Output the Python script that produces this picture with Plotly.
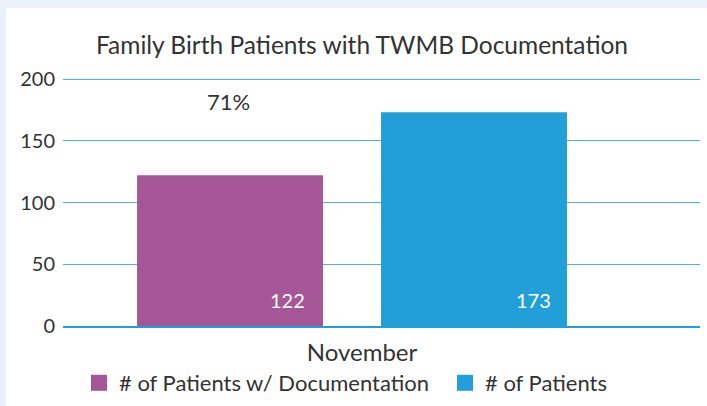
import plotly.graph_objects as go

categories = ["November"]
series_names = ["# of Patients w/ Documentation", "# of Patients"]
documented = [122]
total = [173]
y_ticks = [0, 50, 100, 150, 200]

PURPLE = "#A55697"
BLUE = "#229ED9"
FONT = "Lato"
TXT = "#333333"

fig = go.Figure()
for name, vals, col, lg in ((series_names[0], documented, PURPLE, "legend"),
                            (series_names[1], total, BLUE, "legend2")):
    fig.add_trace(go.Bar(name=name, x=categories, y=vals, marker_color=col,
                         marker_line_width=0, showlegend=False))
    # legend entry with a larger square swatch
    fig.add_trace(go.Scatter(name=name, x=[None], y=[None], mode="markers",
                             marker=dict(symbol="square", size=20, color=col),
                             showlegend=True, hoverinfo="skip", legend=lg))

# value labels, bottom-right inside bars
for vals, xs in ((documented, -65), (total, 181)):
    fig.add_annotation(x=categories[0], y=0, xref="x", yref="y", text=str(vals[0]),
                       showarrow=False, yanchor="bottom", yshift=12, xshift=xs,
                       font=dict(family=FONT, size=20, color="white"))

pct = round(documented[0] / total[0] * 100)
fig.add_annotation(x=categories[0], y=180, xref="x", yref="y", text=f"{pct}%",
                   showarrow=False, xshift=-124, yshift=2,
                   font=dict(family=FONT, size=22, color=TXT))

# white panel over light-blue frame
ml, mr, mt, mb, W, H = 63, 7, 77, 80, 707, 406
pw, ph = W - ml - mr, H - mt - mb
fig.add_shape(type="rect", xref="paper", yref="paper", layer="below",
              x0=(6 - ml) / pw, x1=(W + 5 - ml) / pw,
              y0=(mb - H - 5) / ph, y1=(H - 8 - mb) / ph,
              fillcolor="white", line_width=0)

legend_style = dict(orientation="h", xref="container", yref="container",
                    xanchor="left", y=1 - 383 / H, yanchor="middle",
                    font=dict(family=FONT, size=22, color=TXT),
                    bgcolor="rgba(0,0,0,0)", itemclick=False, itemdoubleclick=False)

fig.update_layout(
    width=W, height=H,
    margin=dict(l=ml, r=mr, t=mt, b=mb, autoexpand=False),
    paper_bgcolor="#E9F1FA",
    plot_bgcolor="rgba(0,0,0,0)",
    barmode="group", bargap=0.234, bargroupgap=0.238,
    title=dict(text="Family Birth Patients with TWMB Documentation",
               x=(362 - ml) / pw, xref="paper", xanchor="center",
               y=1 - 45 / H, yanchor="middle",
               font=dict(family=FONT, size=24.5, color=TXT)),
    font=dict(family=FONT, color=TXT),
    showlegend=True,
    legend=dict(x=79 / W, **legend_style),
    legend2=dict(x=445 / W, **legend_style),
)
fig.update_xaxes(type="category", range=[-0.4537, 0.5463], showgrid=False,
                 showline=True, linecolor=BLUE, linewidth=1.5, ticks="",
                 tickfont=dict(family=FONT, size=24, color=TXT),
                 ticklabelshift=10, ticklabelstandoff=4)
fig.update_yaxes(range=[0, 200 * ph / (ph - 2)], tickvals=y_ticks, showgrid=True,
                 gridcolor="#4FB0DE", gridwidth=1, zeroline=False,
                 showline=False, ticks="",
                 tickfont=dict(family=FONT, size=20, color=TXT),
                 ticklabelstandoff=7)

fig.write_html("out.html", config={"displayModeBar": False},
               post_script="document.body.style.margin='0px';")
